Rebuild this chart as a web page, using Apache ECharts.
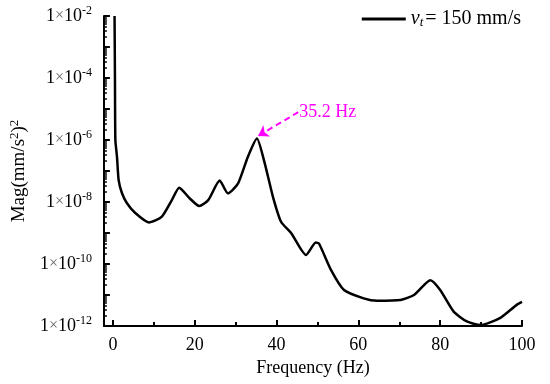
<!DOCTYPE html>
<html><head><meta charset="utf-8">
<script src="https://cdn.jsdelivr.net/npm/echarts@6/dist/echarts.min.js"></script>
<style>html,body{margin:0;padding:0;background:#fff}#c{width:550px;height:384px}</style>
</head><body><div id="c"></div>
<script>
const freq = [0.4, 0.5, 0.6, 1.0, 1.4, 2.2, 3.4, 5.4, 8.8, 11.9, 14.4, 16.2, 18.8, 21.1, 23.3, 26.1, 28.1, 30.6, 33.0, 35.2, 37.1, 39.1, 41.1, 43.6, 47.2, 49.6, 50.4, 53.3, 56.5, 61.3, 64.6, 70.3, 73.6, 77.6, 80.0, 83.3, 86.5, 89.8, 94.6, 98.7, 100];
const mag = [1e-2, 1e-4, 1e-6, 2.8e-7, 5.1e-8, 1.95e-8, 9.3e-9, 4.5e-9, 2.2e-9, 3.3e-9, 1.15e-8, 2.9e-8, 1.3e-8, 7.4e-9, 1.15e-8, 4.9e-8, 1.9e-8, 4e-8, 2.9e-7, 1.12e-6, 1.8e-7, 1.5e-8, 2.3e-9, 9.8e-10, 1.95e-10, 4.9e-10, 4.5e-10, 6.5e-11, 1.45e-11, 7.8e-12, 6.5e-12, 6.9e-12, 1e-11, 3e-11, 1.45e-11, 2.9e-12, 1.4e-12, 1.07e-12, 1.8e-12, 4.8e-12, 6e-12];
const xTicks = [0, 20, 40, 60, 80, 100];
const peakLabel = '35.2 Hz';
const peakArrowFrom = [45.3, 7.9e-6];
const peakArrowTo = [35.5, 1.35e-6];
const legendName = 'vt = 150 mm/s';

const serif = '"Liberation Serif", "DejaVu Serif", serif';
const chart = echarts.init(document.getElementById('c'));
chart.setOption({
  animation: false,
  textStyle: { fontFamily: serif, color: '#000' },
  grid: { left: 102, right: 28, top: 16, bottom: 58 },
  legend: {
    right: 24, top: 4,
    itemWidth: 44, itemHeight: 3, itemGap: 4,
    data: [{ name: legendName, icon: 'rect' }],
    formatter: () => '{i|v}{s|t}{n|= 150 mm/s}',
    textStyle: {
      fontFamily: serif,
      rich: {
        i: { fontFamily: serif, fontSize: 20, fontStyle: 'italic', color: '#000' },
        s: { fontFamily: serif, fontSize: 13, fontStyle: 'italic', color: '#000', padding: [8, 2, 0, 0] },
        n: { fontFamily: serif, fontSize: 20, color: '#000' }
      }
    }
  },
  xAxis: {
    type: 'value', min: -2.2, max: 100, splitNumber: 5,
    name: 'Frequency (Hz)', nameLocation: 'middle', nameGap: 33,
    nameTextStyle: { fontFamily: serif, fontSize: 18, color: '#000' },
    axisLine: { onZero: false, lineStyle: { color: '#000', width: 2 } },
    axisTick: { inside: true, length: 6, lineStyle: { color: '#000', width: 2 } },
    minorTick: { show: true, splitNumber: 2, length: 4, lineStyle: { color: '#000', width: 2 } },
    splitLine: { show: false },
    axisLabel: {
      margin: 10, fontFamily: serif, fontSize: 18, color: '#000',
      showMinLabel: false,
      formatter: v => xTicks.includes(Math.round(v)) && Math.abs(v - Math.round(v)) < 1e-6 ? String(Math.round(v)) : ''
    }
  },
  yAxis: {
    type: 'log', logBase: 10, min: 1e-12, max: 1e-2, interval: 1,
    name: 'Mag(mm/s{sup|2}){sup|2}', nameLocation: 'middle', nameGap: 68, nameRotate: 90,
    nameTextStyle: {
      fontFamily: serif, fontSize: 19, color: '#000',
      rich: { sup: { fontFamily: serif, fontSize: 13, color: '#000', padding: [0, 0, 10, 0] } }
    },
    axisLine: { show: true, onZero: false, lineStyle: { color: '#000', width: 2 } },
    axisTick: { inside: true, length: 6, lineStyle: { color: '#000', width: 2 } },
    minorTick: { show: true, splitNumber: 8, length: 3, lineStyle: { color: '#000', width: 1.5 } },
    splitLine: { show: false },
    axisLabel: {
      margin: 12, fontFamily: serif, color: '#000',
      formatter: v => {
        const e = Math.round(Math.log10(v));
        if (e % 2 !== 0) return '';
        return '{a|1}{x|×}{a|10}{e|' + e + '}';
      },
      rich: {
        a: { fontFamily: serif, fontSize: 18, color: '#000' },
        x: { fontFamily: serif, fontSize: 16, color: '#666' },
        e: { fontFamily: serif, fontSize: 12, color: '#000', padding: [0, 0, 10, 0] }
      }
    }
  },
  series: [{
    name: legendName,
    type: 'line',
    data: freq.map((f, i) => [f, mag[i]]),
    showSymbol: false, symbol: 'none',
    smooth: 0.2,
    lineStyle: { color: '#000', width: 2.5 },
    itemStyle: { color: '#000' },
    markLine: {
      silent: true, symbol: ['none', 'arrow'], symbolSize: 10,
      label: { show: false },
      lineStyle: { color: '#ff00ff', type: [6, 4], width: 2 },
      data: [[{ coord: peakArrowFrom }, { coord: peakArrowTo }]]
    },
    markPoint: {
      silent: true, symbol: 'circle', symbolSize: 0,
      label: { show: true, position: 'right', distance: 1, formatter: peakLabel, fontFamily: serif, fontSize: 18, color: '#ff00ff' },
      data: [{ coord: peakArrowFrom }]
    }
  }]
});
</script></body></html>
